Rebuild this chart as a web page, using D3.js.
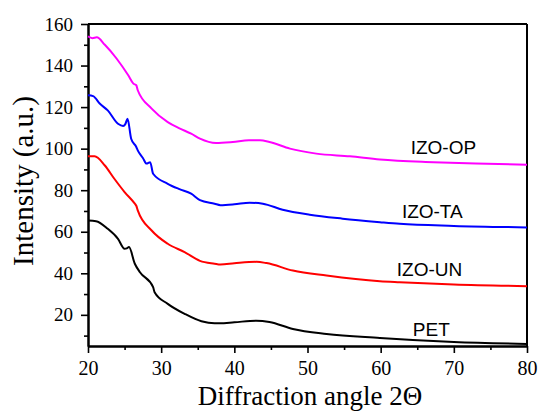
<!DOCTYPE html>
<html>
<head>
<meta charset="utf-8">
<script src="https://cdn.jsdelivr.net/npm/d3@7"></script>
<style>
  body { margin: 0; background: #fff; }
</style>
</head>
<body>
<div id="chart"></div>
<script>
// series: [2theta, intensity]
var izoOP = [[20,154],[20.6,153.2],[21.2,153.6],[22.3,150.0],[23.9,143.4],[25.5,135.3],[26.2,131.3],[26.6,130.5],[26.8,128.1],[28.7,119.3],[30.9,112.8],[32.5,109.8],[34.1,107.2],[35.3,104.8],[37.5,102.7],[39.8,103.2],[42,104.0],[43.5,104.0],[44.8,103.2],[47.6,100.0],[51.2,97.6],[55.8,96.3],[59.9,94.8],[67.2,93.5],[73,92.8],[80,92.3]]
var izoTA = [[20,125.7],[20.7,125.3],[21.6,121.7],[22.7,118.4],[24.1,112.0],[24.8,110.9],[25.1,111.8],[25.4,114.4],[25.9,104.8],[26.6,100.8],[26.8,99.2],[27.5,95.5],[28.0,92.8],[28.5,93.5],[28.9,87.9],[30.9,83.1],[32.5,80.5],[34.1,78.3],[35.3,75.2],[37.3,73.5],[38.1,72.8],[40,73.2],[42.1,74.0],[43.9,73.5],[46.6,70.6],[50.3,68.2],[54.8,66.3],[59.9,64.6],[62.6,63.8],[70,62.8],[80,62.1]]
var izoUN = [[20,96.3],[20.9,96.3],[22.3,91.9],[23.6,85.5],[25.0,79.1],[26.4,73.5],[26.6,72.5],[26.8,70.3],[28.7,60.6],[30.9,54.2],[33.2,50.2],[35.3,46.0],[37.3,44.6],[38.1,44.2],[40,44.8],[43.0,45.5],[44.4,44.9],[48.0,41.3],[52.6,38.9],[59.9,36.2],[62.6,35.7],[70,34.6],[80,33.8]]
var pet = [[20,65.4],[21.1,65.1],[22.7,61.4],[24.1,56.6],[25.0,51.8],[25.3,52.0],[25.6,52.6],[26.4,44.6],[27.1,40.5],[28.9,33.3],[29.1,30.9],[30.9,25.3],[33.2,20.5],[35.5,16.9],[37.3,15.9],[38.0,15.9],[40,16.4],[43.0,17.2],[44.8,16.6],[48.0,13.2],[52.6,10.8],[59.9,8.9],[64.4,7.9],[70,6.9],[80,6.0]]

var seriesNames = ["IZO-OP", "IZO-TA", "IZO-UN", "PET"]
var seriesColors = ["#ff00ff", "#0000ff", "#ff0000", "#000000"]
// label anchor (start x, baseline y) in data units
var labelPos = [[64.1, 97.2], [62.9, 66.4], [62.2, 38.9], [64.4, 10.0]]

var xTicks = [20, 30, 40, 50, 60, 70, 80]
var xMinor = [25, 35, 45, 55, 65, 75]
var yTicks = [20, 40, 60, 80, 100, 120, 140, 160]
var yMinor = [10, 30, 50, 70, 90, 110, 130, 150]

var W = 538, H = 412
var margin = {top: 24, right: 11, bottom: 66, left: 88}
var width = W - margin.left - margin.right
var height = H - margin.top - margin.bottom

var svg = d3.select("#chart").append("svg")
    .attr("width", W)
    .attr("height", H)
var g = svg.append("g")
    .attr("transform", "translate(" + margin.left + "," + margin.top + ")")

var x = d3.scaleLinear().domain([20, 80]).range([0, width])
var y = d3.scaleLinear().domain([5, 160]).range([height, 0])

// axes
var xAxis = g.append("g").attr("transform", "translate(0," + height + ")")
    .call(d3.axisBottom(x).tickValues(xTicks).tickSize(7).tickPadding(8).tickSizeOuter(0))
var xAxisMinor = g.append("g").attr("transform", "translate(0," + height + ")")
    .call(d3.axisBottom(x).tickValues(xMinor).tickSize(4).tickFormat("").tickSizeOuter(0))
var yAxis = g.append("g")
    .call(d3.axisLeft(y).tickValues(yTicks).tickSize(7).tickPadding(8).tickSizeOuter(0))
var yAxisMinor = g.append("g")
    .call(d3.axisLeft(y).tickValues(yMinor).tickSize(4).tickFormat("").tickSizeOuter(0))

g.selectAll(".domain").style("stroke", "#000").style("stroke-width", 2)
g.selectAll(".tick line").style("stroke", "#000").style("stroke-width", 1.6)
xAxis.selectAll("text").style("font-family", "Liberation Serif").style("font-size", "20px").style("fill", "#000")
yAxis.selectAll("text").style("font-family", "Liberation Serif").style("font-size", "19px").style("fill", "#000")

// frame top and right
g.append("line").attr("x1", 0).attr("x2", width).attr("y1", 0).attr("y2", 0)
    .style("stroke", "#000").style("stroke-width", 2)
g.append("line").attr("x1", width).attr("x2", width).attr("y1", 0).attr("y2", height)
    .style("stroke", "#000").style("stroke-width", 2)

// curves
var line = d3.line()
    .x(function(d) { return x(d[0]) })
    .y(function(d) { return y(d[1]) })
    .curve(d3.curveMonotoneX)

var allSeries = [izoOP, izoTA, izoUN, pet]
allSeries.forEach(function(s, i) {
    g.append("path")
        .attr("d", line(s))
        .style("fill", "none")
        .style("stroke", seriesColors[i])
        .style("stroke-width", 2)
        .style("stroke-linejoin", "round")

    g.append("text")
        .attr("x", x(labelPos[i][0]))
        .attr("y", y(labelPos[i][1]))
        .text(seriesNames[i])
        .style("font-family", "Liberation Sans")
        .style("font-size", "19px")
        .style("fill", "#000")
})

// axis titles
svg.append("text")
    .attr("text-anchor", "middle")
    .attr("x", 310)
    .attr("y", 405)
    .text("Diffraction angle 2Θ")
    .style("font-family", "Liberation Serif")
    .style("font-size", "27px")

svg.append("text")
    .attr("text-anchor", "middle")
    .attr("transform", "translate(33,181) rotate(-90)")
    .text("Intensity (a.u.)")
    .style("font-family", "Liberation Serif")
    .style("font-size", "29px")
</script>
</body>
</html>
